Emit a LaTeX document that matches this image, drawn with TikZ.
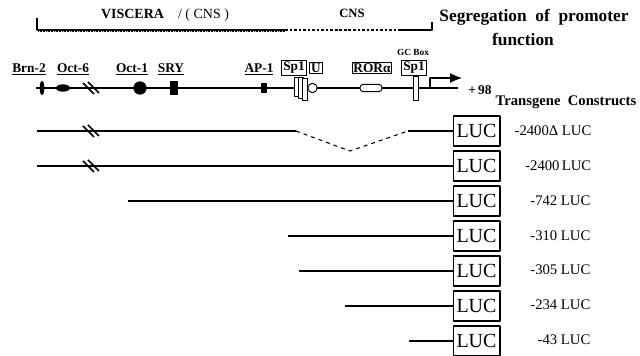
\documentclass[tikz,border=0pt]{standalone}
\usepackage{fontspec}
\setmainfont{Liberation Serif}
\usetikzlibrary{arrows.meta,shapes.geometric}
\tikzset{
  gene/.style={line width=1.8pt},
  cut/.style={line width=1.1pt},
  lucbox/.style={draw, line width=1pt, fill=white, minimum width=35pt, minimum height=22.5pt, inner sep=0pt, font=\fontsize{15}{15}\selectfont},
  cname/.style={anchor=east, font=\fontsize{11}{11}\selectfont},
  site/.style={font=\bfseries\fontsize{10}{10}\selectfont},
  sitebox/.style={draw, line width=0.7pt, inner sep=1pt, font=\bfseries\fontsize{10}{10}\selectfont},
  blob/.style={fill, inner sep=0pt},
  hollow/.style={draw, line width=0.7pt, fill=white, inner sep=0pt},
}
\begin{document}
\begin{tikzpicture}[x=0.75pt,y=-0.75pt,>=latex,line join=bevel]
  \useasboundingbox (0,0) rectangle (640,356);
%%
  % Bracket: segregation of promoter function
  \draw[line width=1pt] (37,18) -- (37,30) -- (285,30);
  \draw[line width=0.8pt, dash pattern=on 0.6pt off 0.6pt] (38,31.3) -- (285,31.3);
  \draw[line width=1.5pt, dash pattern=on 2pt off 1.4pt] (285,30.5) -- (400,30.5);
  \draw[line width=1.2pt] (400,30) -- (432,30) -- (432,22);
  \node[font=\fontsize{10.5}{10.5}\selectfont] (viscera) at (165,15) {\textbf{VISCERA}\quad/ ( CNS )};
  \node[font=\bfseries\fontsize{9.5}{9.5}\selectfont] (cns) at (352,13) {CNS};
  \node[font=\bfseries\fontsize{13}{13}\selectfont] (segr) at (534,17) {Segregation\ \ of\ \ promoter};
  \node[font=\bfseries\fontsize{13}{13}\selectfont] (func) at (523,40) {function};
%%
  % Promoter map
  \coordinate (g0) at (36,88);
  \coordinate (g1) at (458,88);
  \draw[gene] (g0) -- (g1);
  % Node: sites on the map
  \node[blob, ellipse, minimum width=3.5pt, minimum height=10.5pt] (brn2) at (42,88) {};
  \node[blob, ellipse, minimum width=10.5pt, minimum height=5.5pt] (oct6) at (63,88) {};
  \draw[cut] (83,83) -- (94,94);
  \draw[cut] (88,82) -- (99,93);
  \node[blob, circle, minimum size=10pt] (oct1) at (140,88) {};
  \node[blob, minimum width=6pt, minimum height=11pt] (sry) at (174,88) {};
  \node[blob, minimum width=5pt, minimum height=7pt] (ap1) at (264,88) {};
  \node[hollow, minimum width=4pt, minimum height=14pt] (sp1a) at (297,87) {};
  \node[hollow, minimum width=4pt, minimum height=16pt] (sp1b) at (301,88) {};
  \node[hollow, minimum width=4pt, minimum height=16pt] (sp1c) at (305,89.5) {};
  \node[hollow, circle, minimum size=7pt] (usite) at (312.5,88) {};
  \node[hollow, rounded corners=2.5pt, minimum width=16.5pt, minimum height=5.5pt] (rora) at (371,88) {};
  \node[hollow, minimum width=3.8pt, minimum height=18pt] (gcsp1) at (416,88) {};
  % Edge: transcription start
  \coordinate (tss) at (430,88);
  \draw[line width=0.8pt, -{Latex[length=9pt,width=7.5pt]}] (tss) -- (430,78) -- (462,78);
  \node[site] (plus98) at (480,90) {+\,98};
  % Node: site names
  \node[site] (nbrn2) at (29,69) {\underline{Brn-2}};
  \node[site] (noct6) at (73,69) {\underline{Oct-6}};
  \node[site] (noct1) at (132,69) {\underline{Oct-1}};
  \node[site] (nsry) at (171,69) {\underline{SRY}};
  \node[site] (nap1) at (259,69) {\underline{AP-1}};
  \node[sitebox] (nsp1a) at (294,68) {Sp1};
  \node[sitebox] (nu) at (316,68) {U};
  \node[sitebox] (nrora) at (372,68) {RORα};
  \node[sitebox] (nsp1b) at (414,68) {Sp1};
  \node[font=\bfseries\fontsize{7}{7}\selectfont] (gcbox) at (413,52) {GC Box};
  \node[font=\bfseries\fontsize{11}{11}\selectfont, anchor=east] (transg) at (641,102) {Transgene\ \ Constructs};
%%
  % Node: reporter constructs
  \node[lucbox] (luc1) at (476.5,131) {LUC};
  \node[lucbox] (luc2) at (476.5,166) {LUC};
  \node[lucbox] (luc3) at (476.5,201) {LUC};
  \node[lucbox] (luc4) at (476.5,236) {LUC};
  \node[lucbox] (luc5) at (476.5,271) {LUC};
  \node[lucbox] (luc6) at (476.5,306) {LUC};
  \node[lucbox] (luc7) at (476.5,341) {LUC};
  \node[cname] (name1) at (596,131) {-2400Δ LUC};
  \node[cname] (name2) at (596,166) {-2400\,LUC};
  \node[cname] (name3) at (595,201) {-742 LUC};
  \node[cname] (name4) at (595,236) {-310 LUC};
  \node[cname] (name5) at (595,270) {-305 LUC};
  \node[cname] (name6) at (595,305) {-234 LUC};
  \node[cname] (name7) at (595,340) {-43 LUC};
  \coordinate (start1) at (37,131);
  \coordinate (start2) at (37,166);
  \coordinate (start3) at (128,201);
  \coordinate (start4) at (288,236);
  \coordinate (start5) at (299,271);
  \coordinate (start6) at (345,306);
  \coordinate (start7) at (409,341);
  \coordinate (del1) at (296,131);
  \coordinate (del2) at (350,151);
  \coordinate (del3) at (408,131);
  % Edge: start1 -> luc1 (deletion)
  \draw[gene] (start1) -- (del1);
  \draw[line width=0.8pt, dashed] (del1) -- (del2) -- (del3);
  \draw[gene] (del3) -- (luc1);
  \draw[cut] (83,126) -- (94,137);
  \draw[cut] (88,125) -- (99,136);
  % Edge: start2 -> luc2
  \draw[gene] (start2) -- (luc2);
  \draw[cut] (83,161) -- (94,172);
  \draw[cut] (88,160) -- (99,171);
  % Edge: start3 -> luc3
  \draw[gene] (start3) -- (luc3);
  % Edge: start4 -> luc4
  \draw[gene] (start4) -- (luc4);
  % Edge: start5 -> luc5
  \draw[gene] (start5) -- (luc5);
  % Edge: start6 -> luc6
  \draw[gene] (start6) -- (luc6);
  % Edge: start7 -> luc7
  \draw[gene] (start7) -- (luc7);
%
\end{tikzpicture}
\end{document}
